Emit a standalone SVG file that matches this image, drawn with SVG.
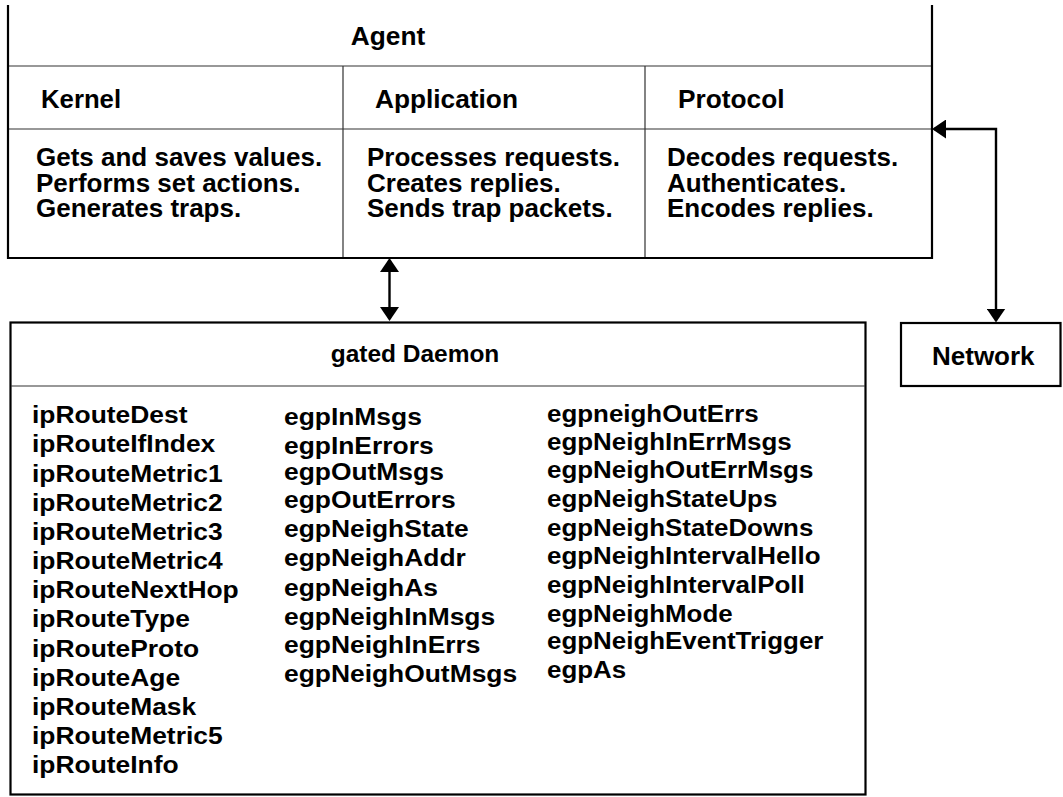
<svg xmlns="http://www.w3.org/2000/svg" width="1063" height="797" viewBox="0 0 1063 797">
<style>
  text { font-family: "Liberation Sans", Arial, sans-serif; font-weight: bold; fill: #000; }
  .hd { font-size: 26px; }
  .bd { font-size: 25px; }
  .ls { font-size: 24px; }
  .thick { fill: none; stroke: #000; stroke-width: 2.2; }
  .thin { fill: none; stroke: #333; stroke-width: 1.2; }
  .conn { fill: none; stroke: #000; stroke-width: 2.4; }
</style>
<defs>
  <marker id="arr" markerUnits="userSpaceOnUse" viewBox="0 0 14 19" refX="12" refY="9.5" markerWidth="14" markerHeight="19" orient="auto-start-reverse">
    <path d="M0,0 L14,9.5 L0,19 z" fill="#000"/>
  </marker>
</defs>
<rect width="1063" height="797" fill="#fff"/>

<g id="agent">
  <path class="thin" d="M8,66 H932 M8,129 H932 M343,66 V258 M645,66 V258"/>
  <path class="thick" d="M8,5 V258 H932 V5"/>
  <g transform="translate(388,0) scale(1.01,1)"><text class="hd" x="0" y="45" text-anchor="middle">Agent</text></g>
  <g transform="translate(41,0) scale(0.99,1)"><text class="hd" x="0" y="108">Kernel</text></g>
  <g transform="translate(375,0) scale(1.01,1)"><text class="hd" x="0" y="108">Application</text></g>
  <g transform="translate(678,0) scale(1.01,1)"><text class="hd" x="0" y="108">Protocol</text></g>
  <g transform="translate(36,0) scale(1.04,1)">
    <text class="bd" x="0" y="166">Gets and saves values.</text>
    <text class="bd" x="0" y="192">Performs set actions.</text>
    <text class="bd" x="0" y="217">Generates traps.</text>
  </g>
  <g transform="translate(367,0) scale(1.04,1)">
    <text class="bd" x="0" y="166">Processes requests.</text>
    <text class="bd" x="0" y="192">Creates replies.</text>
    <text class="bd" x="0" y="217">Sends trap packets.</text>
  </g>
  <g transform="translate(667,0) scale(1.04,1)">
    <text class="bd" x="0" y="166">Decodes requests.</text>
    <text class="bd" x="0" y="192">Authenticates.</text>
    <text class="bd" x="0" y="217">Encodes replies.</text>
  </g>
</g>

<g id="gated">
  <rect class="thick" x="10.5" y="322.5" width="855" height="472"/>
  <path class="thin" d="M11,386 H865"/>
  <g transform="translate(415,0) scale(1.02,1)"><text class="hd" x="0" y="362" text-anchor="middle" style="font-size:24px">gated Daemon</text></g>
  <g transform="translate(32,0) scale(1.1,1)">
    <text class="ls" x="0" y="423.3">ipRouteDest</text>
    <text class="ls" x="0" y="452.5">ipRouteIfIndex</text>
    <text class="ls" x="0" y="481.6">ipRouteMetric1</text>
    <text class="ls" x="0" y="510.8">ipRouteMetric2</text>
    <text class="ls" x="0" y="540">ipRouteMetric3</text>
    <text class="ls" x="0" y="569.2">ipRouteMetric4</text>
    <text class="ls" x="0" y="598.3">ipRouteNextHop</text>
    <text class="ls" x="0" y="627.5">ipRouteType</text>
    <text class="ls" x="0" y="656.7">ipRouteProto</text>
    <text class="ls" x="0" y="685.8">ipRouteAge</text>
    <text class="ls" x="0" y="715">ipRouteMask</text>
    <text class="ls" x="0" y="744.2">ipRouteMetric5</text>
    <text class="ls" x="0" y="773.3">ipRouteInfo</text>
  </g>
  <g transform="translate(284,0) scale(1.1,1)">
    <text class="ls" x="0" y="425">egpInMsgs</text>
    <text class="ls" x="0" y="454.5">egpInErrors</text>
    <text class="ls" x="0" y="480.5">egpOutMsgs</text>
    <text class="ls" x="0" y="508.5">egpOutErrors</text>
    <text class="ls" x="0" y="537.5">egpNeighState</text>
    <text class="ls" x="0" y="566.5">egpNeighAddr</text>
    <text class="ls" x="0" y="596">egpNeighAs</text>
    <text class="ls" x="0" y="625">egpNeighInMsgs</text>
    <text class="ls" x="0" y="653.5">egpNeighInErrs</text>
    <text class="ls" x="0" y="682.5">egpNeighOutMsgs</text>
  </g>
  <g transform="translate(547,0) scale(1.08,1)">
    <text class="ls" x="0" y="421.7">egpneighOutErrs</text>
    <text class="ls" x="0" y="450">egpNeighInErrMsgs</text>
    <text class="ls" x="0" y="478.3">egpNeighOutErrMsgs</text>
    <text class="ls" x="0" y="506.7">egpNeighStateUps</text>
    <text class="ls" x="0" y="535.7">egpNeighStateDowns</text>
    <text class="ls" x="0" y="564">egpNeighIntervalHello</text>
    <text class="ls" x="0" y="592.7">egpNeighIntervalPoll</text>
    <text class="ls" x="0" y="621.7">egpNeighMode</text>
    <text class="ls" x="0" y="649.3">egpNeighEventTrigger</text>
    <text class="ls" x="0" y="678.3">egpAs</text>
  </g>
</g>

<g id="network">
  <rect class="thick" x="901" y="323" width="159.5" height="63"/>
  <text class="hd" x="932" y="365">Network</text>
</g>

<g id="connectors">
  <path class="conn" d="M389.5,260 V319" marker-start="url(#arr)" marker-end="url(#arr)"/>
  <path class="conn" d="M934,129 H996 V320.5" marker-start="url(#arr)" marker-end="url(#arr)"/>
</g>
</svg>
